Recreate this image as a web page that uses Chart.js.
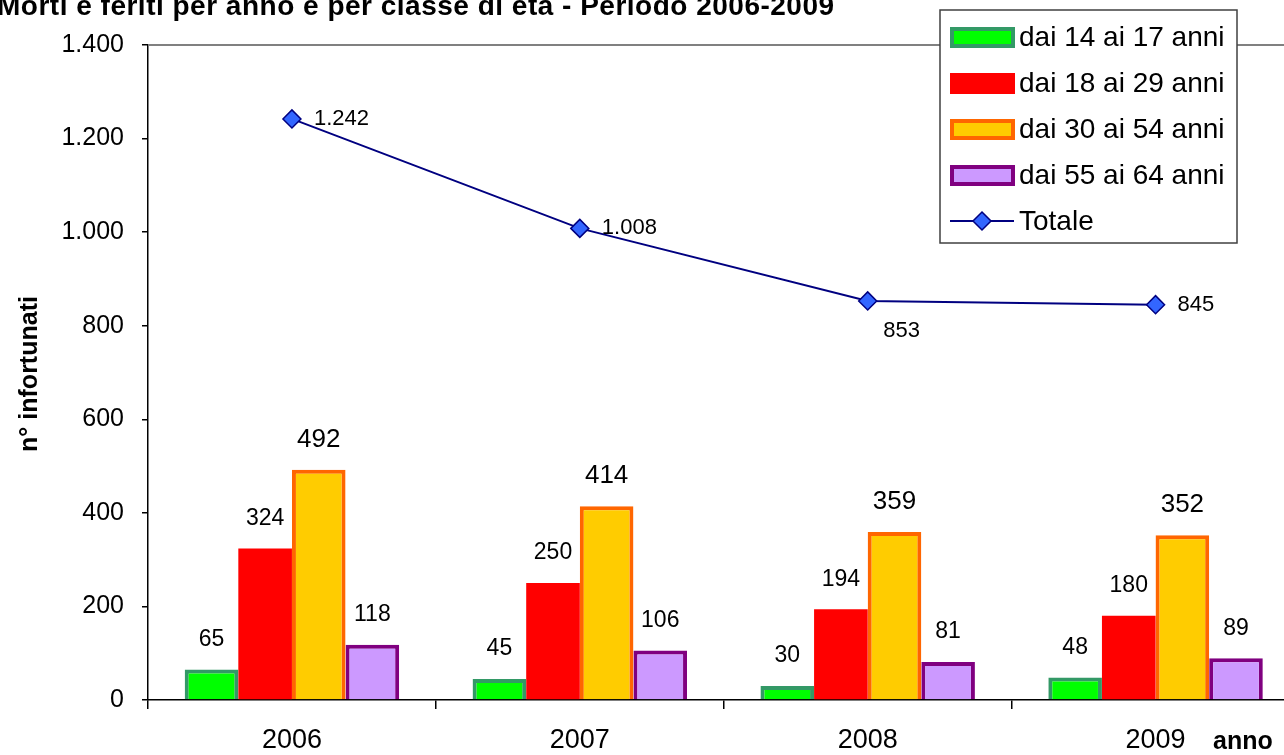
<!DOCTYPE html>
<html>
<head>
<meta charset="utf-8">
<script src="https://cdn.jsdelivr.net/npm/chart.js@4"></script>
<style>
  body { margin: 0; background: #fff; overflow: hidden; }
  #wrap { width: 1284px; height: 755px; overflow: hidden; position: relative; }
  canvas { position: absolute; left: 0; top: 0; }
</style>
</head>
<body>
<div id="wrap"><canvas id="myChart" width="1310" height="755"></canvas></div>
<script>
const years = ['2006', '2007', '2008', '2009'];
const age14to17 = [65, 45, 30, 48];
const age18to29 = [324, 250, 194, 180];
const age30to54 = [492, 414, 359, 352];
const age55to64 = [118, 106, 81, 89];
const totale = [1242, 1008, 853, 845];
const yTicks = [0, 200, 400, 600, 800, 1000, 1200, 1400];

const titleText = 'Morti e feriti per anno e per classe di età - Periodo 2006-2009';
const FONT = '"Liberation Sans", Arial, sans-serif';

function fmt(v) {
  return String(v).replace(/\B(?=(\d{3})+(?!\d))/g, '.');
}

// value labels, titles, top border and the boxed legend
const extras = {
  id: 'extras',
  afterDatasetsDraw(chart) {
    const ctx = chart.ctx;
    const area = chart.chartArea;
    ctx.save();

    // grey top border of the plot area
    ctx.strokeStyle = '#808080';
    ctx.lineWidth = 2;
    ctx.beginPath();
    ctx.moveTo(area.left, area.top);
    ctx.lineTo(area.right, area.top);
    ctx.stroke();

    ctx.fillStyle = '#000';
    ctx.textAlign = 'center';
    ctx.textBaseline = 'middle';

    // bar labels
    for (let d = 0; d < 4; d++) {
      const meta = chart.getDatasetMeta(d);
      ctx.font = (d == 2 ? '26px ' : '23px ') + FONT;
      meta.data.forEach((bar, i) => {
        ctx.fillText(chart.data.datasets[d].data[i], bar.x, bar.y - 30);
      });
    }

    // line labels
    const lineMeta = chart.getDatasetMeta(4);
    ctx.font = '22px ' + FONT;
    lineMeta.data.forEach((pt, i) => {
      const txt = fmt(totale[i]);
      if (i == 2) {
        ctx.textAlign = 'center';
        ctx.fillText(txt, pt.x + 34, pt.y + 30);
      } else {
        ctx.textAlign = 'left';
        ctx.fillText(txt, pt.x + 22, pt.y);
      }
    });

    // chart title
    ctx.font = 'bold 28px ' + FONT;
    ctx.textAlign = 'left';
    ctx.textBaseline = 'alphabetic';
    ctx.letterSpacing = '0.5px';
    ctx.fillText(titleText, -3, 15);
    ctx.letterSpacing = '0px';

    // axis titles
    ctx.font = 'bold 25px ' + FONT;
    ctx.textAlign = 'left';
    ctx.textBaseline = 'middle';
    ctx.fillText('anno', 1213, 742);

    ctx.save();
    ctx.translate(30, 374);
    ctx.rotate(-Math.PI / 2);
    ctx.textAlign = 'center';
    ctx.fillText('n° infortunati', 0, 0);
    ctx.restore();

    // legend box
    ctx.fillStyle = '#fff';
    ctx.fillRect(940, 10, 297, 233);
    ctx.strokeStyle = '#404040';
    ctx.lineWidth = 1.5;
    ctx.strokeRect(940, 10, 297, 233);

    ctx.font = '28px ' + FONT;
    ctx.textAlign = 'left';
    ctx.textBaseline = 'middle';
    chart.data.datasets.forEach((ds, k) => {
      const cy = 37 + k * 46;
      if (ds.type == 'line') {
        ctx.strokeStyle = ds.borderColor;
        ctx.lineWidth = 2;
        ctx.beginPath();
        ctx.moveTo(950, cy);
        ctx.lineTo(1014, cy);
        ctx.stroke();
        ctx.fillStyle = ds.pointBackgroundColor;
        ctx.strokeStyle = ds.pointBorderColor;
        ctx.lineWidth = 1.5;
        ctx.beginPath();
        ctx.moveTo(982, cy - 9);
        ctx.lineTo(991, cy);
        ctx.lineTo(982, cy + 9);
        ctx.lineTo(973, cy);
        ctx.closePath();
        ctx.fill();
        ctx.stroke();
      } else {
        ctx.fillStyle = ds.backgroundColor;
        ctx.fillRect(950, cy - 10, 65, 21);
        if (ds.borderWidth > 0) {
          ctx.strokeStyle = ds.borderColor;
          ctx.lineWidth = 4;
          ctx.strokeRect(952, cy - 8, 61, 17);
        }
      }
      ctx.fillStyle = '#000';
      ctx.fillText(ds.label, 1019, cy + 1);
    });

    ctx.restore();
  }
};

const ctx = document.getElementById('myChart').getContext('2d');
const chart = new Chart(ctx, {
  type: 'bar',
  data: {
    labels: years,
    datasets: [
      {
        label: 'dai 14 ai 17 anni',
        data: age14to17,
        backgroundColor: '#00FF00',
        borderColor: '#339966',
        borderWidth: 4,
        order: 1
      },
      {
        label: 'dai 18 ai 29 anni',
        data: age18to29,
        backgroundColor: '#FF0000',
        borderColor: '#FF0000',
        borderWidth: 0,
        order: 1
      },
      {
        label: 'dai 30 ai 54 anni',
        data: age30to54,
        backgroundColor: '#FFCC00',
        borderColor: '#FF6600',
        borderWidth: 4,
        order: 1
      },
      {
        label: 'dai 55 ai 64 anni',
        data: age55to64,
        backgroundColor: '#CC99FF',
        borderColor: '#800080',
        borderWidth: 4,
        order: 1
      },
      {
        type: 'line',
        label: 'Totale',
        data: totale,
        borderColor: '#000080',
        borderWidth: 2,
        pointStyle: 'rectRot',
        pointRadius: 9,
        pointBackgroundColor: '#3366FF',
        pointBorderColor: '#000080',
        pointBorderWidth: 1.5,
        tension: 0,
        order: 0
      }
    ]
  },
  options: {
    responsive: false,
    animation: false,
    devicePixelRatio: 1,
    layout: { padding: { top: 45, right: 10, left: 0, bottom: 0 } },
    categoryPercentage: 0.745,
    barPercentage: 1,
    plugins: {
      legend: { display: false },
      title: { display: false },
      tooltip: { enabled: false }
    },
    scales: {
      x: {
        afterFit(scale) { scale.height = 55; },
        border: { display: true, color: '#000', width: 1.5 },
        grid: { offset: true, drawOnChartArea: false, drawTicks: true, tickLength: 9, color: '#000', lineWidth: 1.5 },
        ticks: { color: '#000', padding: 15, font: { family: FONT, size: 27 } }
      },
      y: {
        min: 0,
        max: 1400,
        afterFit(scale) { scale.width = 148; },
        afterBuildTicks(scale) { scale.ticks = yTicks.map(v => ({ value: v })); },
        border: { display: true, color: '#000', width: 1.5 },
        grid: { drawOnChartArea: false, drawTicks: true, tickLength: 6, color: '#000', lineWidth: 1.5 },
        ticks: {
          color: '#000',
          padding: 18,
          font: { family: FONT, size: 25 },
          callback: v => fmt(v)
        }
      }
    }
  },
  plugins: [extras]
});
</script>
</body>
</html>
